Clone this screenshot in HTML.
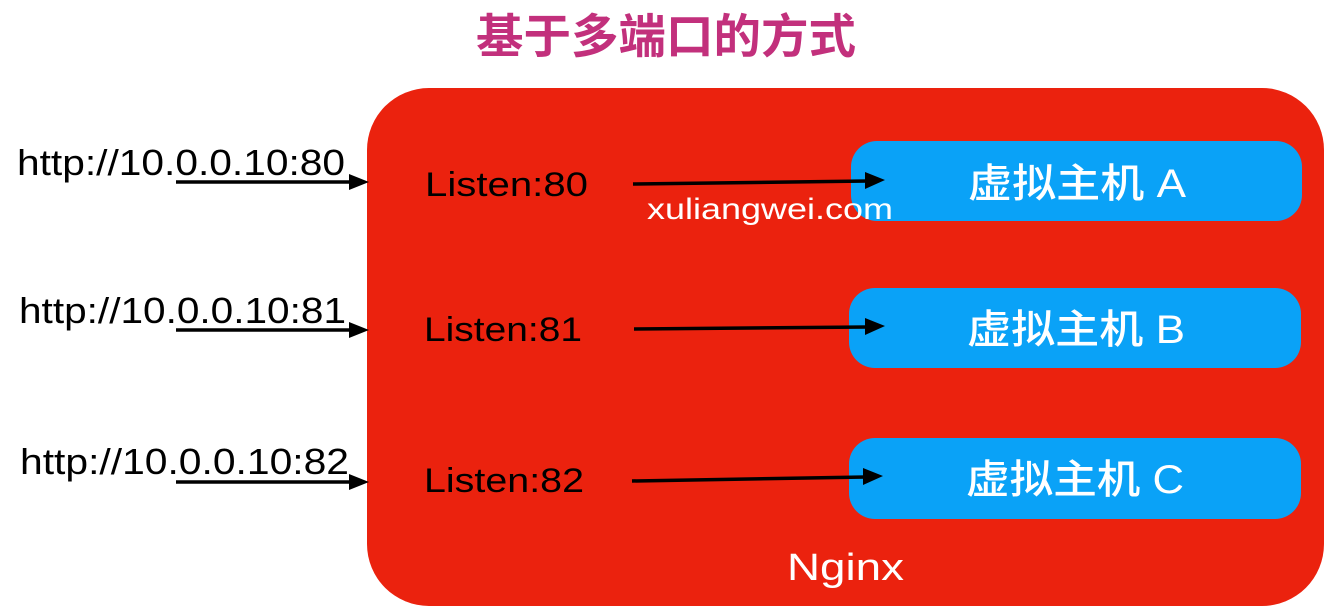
<!DOCTYPE html>
<html><head><meta charset="utf-8"><style>
html,body{margin:0;padding:0;background:#fff;width:1336px;height:616px;overflow:hidden}
svg text{font-family:"Liberation Sans","Noto Sans CJK SC",sans-serif}
</style></head><body>
<svg width="1336" height="616" viewBox="0 0 1336 616" xmlns="http://www.w3.org/2000/svg">
<text x="666" y="53" text-anchor="middle" font-size="47" font-weight="bold" fill="#c2307c" font-family="'Noto Sans CJK SC',sans-serif" textLength="380" lengthAdjust="spacingAndGlyphs">基于多端口的方式</text>
<rect x="367" y="88" width="957" height="518" rx="62" fill="#eb220e"/>
<rect x="851" y="141" width="451" height="80" rx="26" fill="#0aa2f7"/>
<rect x="849" y="288" width="452" height="80" rx="26" fill="#0aa2f7"/>
<rect x="849" y="438" width="452" height="81" rx="26" fill="#0aa2f7"/>
<g font-size="36" fill="#000">
<text x="17" y="175" textLength="328" lengthAdjust="spacingAndGlyphs">http://10.0.0.10:80</text>
<text x="19" y="323" textLength="327" lengthAdjust="spacingAndGlyphs">http://10.0.0.10:81</text>
<text x="20" y="474" textLength="329" lengthAdjust="spacingAndGlyphs">http://10.0.0.10:82</text>
</g>
<g font-size="34" fill="#000">
<text x="425" y="196" textLength="163" lengthAdjust="spacingAndGlyphs">Listen:80</text>
<text x="424" y="341" textLength="158" lengthAdjust="spacingAndGlyphs">Listen:81</text>
<text x="424" y="492" textLength="160" lengthAdjust="spacingAndGlyphs">Listen:82</text>
</g>
<g stroke="#000" stroke-width="3.5" fill="#000">
<line x1="176" y1="182" x2="352" y2="182"/><path d="M349,174 L369,182 L349,190z" stroke="none"/>
<line x1="176" y1="330" x2="352" y2="330"/><path d="M349,322 L369,330 L349,338z" stroke="none"/>
<line x1="176" y1="482" x2="352" y2="482"/><path d="M349,474 L369,482 L349,490z" stroke="none"/>
<line x1="633" y1="184" x2="868" y2="181"/><path d="M865,172 L885,180 L865,189z" stroke="none"/>
<line x1="634" y1="329" x2="868" y2="327"/><path d="M865,318 L885,326 L865,335z" stroke="none"/>
<line x1="632" y1="481" x2="866" y2="477"/><path d="M863,468 L883,476 L863,485z" stroke="none"/>
</g>
<text x="647" y="219" font-size="30" fill="#fff" textLength="246" lengthAdjust="spacingAndGlyphs">xuliangwei.com</text>
<g font-size="40" fill="#fff" font-weight="500" font-family="'Noto Sans CJK SC',sans-serif">
<text x="968" y="197" textLength="218" lengthAdjust="spacingAndGlyphs">虚拟主机 A</text>
<text x="967" y="343" textLength="218" lengthAdjust="spacingAndGlyphs">虚拟主机 B</text>
<text x="966" y="493" textLength="218" lengthAdjust="spacingAndGlyphs">虚拟主机 C</text>
</g>
<text x="787" y="580" font-size="38" fill="#fff" textLength="117" lengthAdjust="spacingAndGlyphs">Nginx</text>
</svg>
</body></html>
